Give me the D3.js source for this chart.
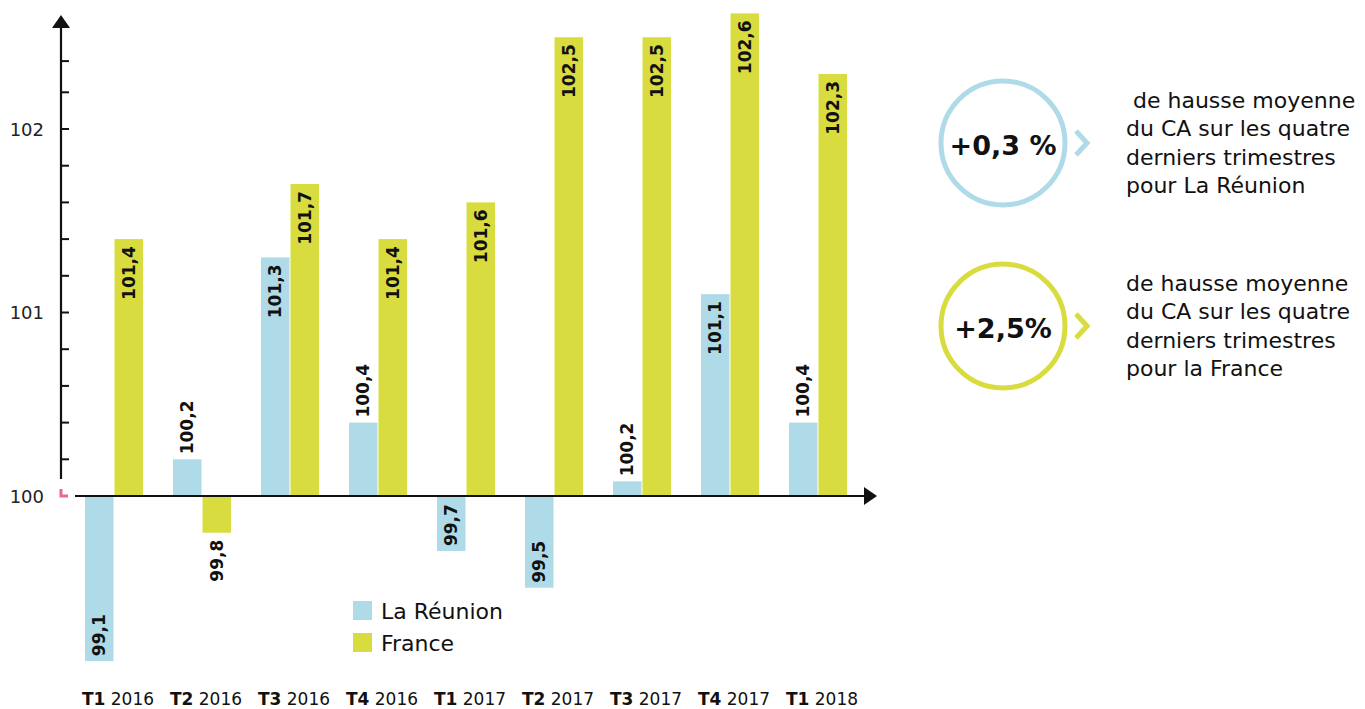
<!DOCTYPE html>
<html><head><meta charset="utf-8">
<script src="https://cdn.jsdelivr.net/npm/d3@7"></script>
<style>body{margin:0;background:#fff}svg{display:block}</style>
</head><body><svg id="c" width="1365" height="709"></svg>
<script>
// ---- data ----
const quarters = ["T1","T2","T3","T4","T1","T2","T3","T4","T1"];
const years = ["2016","2016","2016","2016","2017","2017","2017","2017","2018"];
const seriesNames = ["La Réunion","France"];
const reunion = [99.1,100.2,101.3,100.4,99.7,99.5,100.08,101.1,100.4];
const reunionLabels = ["99,1","100,2","101,3","100,4","99,7","99,5","100,2","101,1","100,4"];
const france = [101.4,99.8,101.7,101.4,101.6,102.5,102.5,102.63,102.3];
const franceLabels = ["101,4","99,8","101,7","101,4","101,6","102,5","102,5","102,6","102,3"];
const yTickLabels = [100,101,102];
const yMinorTicks = [100.2,100.4,100.6,100.8,101,101.2,101.4,101.6,101.8,102,102.2,102.37];
const summaryValues = ["+0,3 %","+2,5%"];
const summaryTexts = [
  ["\u00a0de hausse moyenne","du CA sur les quatre","derniers trimestres","pour La Réunion"],
  ["de hausse moyenne","du CA sur les quatre","derniers trimestres","pour la France"]
];
// ---- style ----
const colors = ["#aedbe7","#d8dc3e"];
const FONT = "'DejaVu Sans', sans-serif";
const svg = d3.select("#c");
const base = 100;
const y = d3.scaleLinear().domain([100,102]).range([496,129]);
const x = d3.scaleBand().domain(d3.range(quarters.length)).range([85,847]).paddingInner(30/88).paddingOuter(0);
const sub = d3.scaleBand().domain([0,1]).range([0,x.bandwidth()]).paddingInner(2/58);

// bars
const series = [reunion, france];
const labels = [reunionLabels, franceLabels];
series.forEach((vals, s) => {
  const g = svg.append("g");
  g.selectAll("rect").data(vals).join("rect")
    .attr("x", (d,i) => x(i) + sub(s))
    .attr("width", sub.bandwidth())
    .attr("y", d => Math.min(y(d), y(base)))
    .attr("height", d => Math.abs(y(d) - y(base)))
    .attr("fill", colors[s]);
  g.selectAll("text").data(vals).join("text")
    .each(function(d,i){
      const cx = x(i) + sub(s) + sub.bandwidth()/2;
      const h = Math.abs(y(d) - y(base));
      let py, anchor;
      if (d >= base) {
        if (h > 100) { py = y(d) + 7; anchor = "end"; }
        else { py = y(d) - 5; anchor = "start"; }
      } else {
        if (h > 50) { py = y(d) - 5; anchor = "start"; }
        else { py = y(d) + 7; anchor = "end"; }
      }
      d3.select(this)
        .attr("transform", `translate(${cx},${py}) rotate(-90)`)
        .attr("text-anchor", anchor)
        .attr("dominant-baseline", "central")
        .attr("font-family", FONT).attr("font-weight", 700).attr("font-size", 17)
        .attr("fill", "#111")
        .text(labels[s][i]);
    });
});

// axes
const axisX = 61;
const yAxisG = svg.append("g");
yAxisG.append("line").attr("x1",axisX).attr("x2",axisX).attr("y1",479).attr("y2",26)
  .attr("stroke","#111").attr("stroke-width",2.2);
yAxisG.append("path").attr("d",`M${axisX-9},28 L${axisX},15 L${axisX+9},28 Z`).attr("fill","#111");
yAxisG.selectAll("line.t").data(yMinorTicks).join("line").attr("class","t")
  .attr("x1",axisX).attr("x2",axisX+8).attr("y1",d=>y(d)).attr("y2",d=>y(d))
  .attr("stroke","#111").attr("stroke-width",2);
yAxisG.selectAll("text").data(yTickLabels).join("text")
  .attr("x",44).attr("y",d=>y(d)).attr("text-anchor","end").attr("dominant-baseline","central")
  .attr("font-family",FONT).attr("font-size",18).attr("fill","#222").text(d=>d);
// break marker
svg.append("path").attr("d",`M${axisX},489 L${axisX},${y(base)} L${axisX+7},${y(base)}`)
  .attr("fill","none").attr("stroke","#ec6795").attr("stroke-width",3);
// x axis
svg.append("line").attr("x1",75).attr("x2",866).attr("y1",y(base)).attr("y2",y(base))
  .attr("stroke","#111").attr("stroke-width",2.2);
svg.append("path").attr("d",`M864,${y(base)-9} L877,${y(base)} L864,${y(base)+9} Z`).attr("fill","#111");

// x labels
const xl = svg.append("g").selectAll("text").data(quarters).join("text")
  .attr("x",(d,i)=>x(i)+x.bandwidth()/2+4).attr("y",699)
  .attr("text-anchor","middle").attr("dominant-baseline","central")
  .attr("font-family",FONT).attr("font-size",17).attr("fill","#111");
xl.append("tspan").attr("font-weight",700).text(d=>d);
xl.append("tspan").attr("font-weight",400).text((d,i)=>"\u00a0"+years[i]);

// legend
const lg = svg.append("g").attr("transform","translate(353,601)");
seriesNames.forEach((n,i)=>{
  lg.append("rect").attr("x",0).attr("y",i*32).attr("width",19).attr("height",19).attr("fill",colors[i]);
  lg.append("text").attr("x",28).attr("y",i*32+10).attr("dominant-baseline","central")
    .attr("font-family",FONT).attr("font-size",22).attr("fill","#111").text(n);
});

// summary panel
const centers = [143,326];
summaryValues.forEach((v,i)=>{
  const g = svg.append("g");
  const cy = centers[i];
  g.append("circle").attr("cx",1003).attr("cy",cy).attr("r",62)
    .attr("fill","none").attr("stroke",colors[i]).attr("stroke-width",5);
  g.append("text").attr("x",1003).attr("y",cy+2).attr("text-anchor","middle").attr("dominant-baseline","central")
    .attr("font-family",FONT).attr("font-weight",700).attr("font-size",27).attr("fill","#111").text(v);
  g.append("path").attr("d",`M1076,${cy-12} L1087,${cy} L1076,${cy+12}`)
    .attr("fill","none").attr("stroke",colors[i]).attr("stroke-width",5);
  g.selectAll("text.l").data(summaryTexts[i]).join("text").attr("class","l")
    .attr("x",1126).attr("y",(d,k)=>cy-43+k*28.5).attr("dominant-baseline","central")
    .attr("font-family",FONT).attr("font-size",22).attr("fill","#111").text(d=>d);
});
</script></body></html>
